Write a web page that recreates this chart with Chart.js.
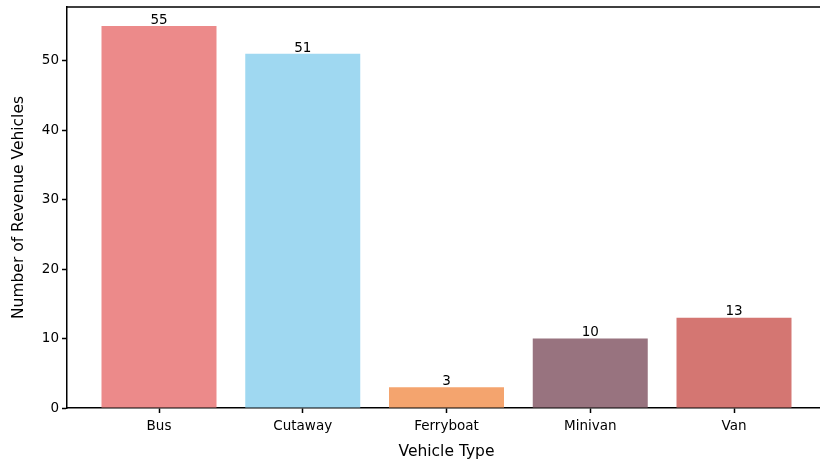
<!DOCTYPE html>
<html>
<head>
<meta charset="utf-8">
<script src="https://cdn.jsdelivr.net/npm/chart.js@4"></script>
<style>
  html, body { margin: 0; padding: 0; background: #fff; overflow: hidden; }
  #wrap { width: 830px; height: 464px; }
</style>
</head>
<body>
<div id="wrap"><canvas id="chart" width="830" height="464"></canvas></div>
<script>
// 데이터
const vehicleTypes = ["Bus", "Cutaway", "Ferryboat", "Minivan", "Van"];
const vehicleCounts = [55, 51, 3, 10, 13];
const barColors = ["#ec8a8a", "#9fd8f1", "#f4a46e", "#98737f", "#d47672"];
const yTicks = [0, 10, 20, 30, 40, 50];

const FONT = "'DejaVu Sans', sans-serif";

// 막대 위 숫자 + 위/오른쪽 테두리
const extras = {
    id: "extras",
    afterDatasetsDraw(chart) {
        const ctx = chart.ctx;
        const meta = chart.getDatasetMeta(0);
        ctx.save();
        ctx.fillStyle = "#000";
        ctx.font = "13.5px " + FONT;
        ctx.textAlign = "center";
        ctx.textBaseline = "bottom";
        meta.data.forEach((bar, i) => {
            ctx.fillText(String(vehicleCounts[i]), bar.x, bar.y + 1);
        });
        const a = chart.chartArea;
        ctx.strokeStyle = "#000";
        ctx.lineWidth = 1.5;
        ctx.beginPath();
        ctx.moveTo(a.left, a.top);
        ctx.lineTo(a.right, a.top);
        ctx.lineTo(a.right, a.bottom);
        ctx.stroke();
        ctx.restore();
    }
};

new Chart(document.getElementById("chart"), {
    type: "bar",
    data: {
        datasets: [{
            data: vehicleCounts.map((v, i) => ({ x: i, y: v })),
            backgroundColor: barColors,
            borderWidth: 0,
            categoryPercentage: 0.8,
            barPercentage: 1.0
        }]
    },
    options: {
        responsive: false,
        animation: false,
        layout: { padding: { left: 0, top: 7, right: 4, bottom: 0 } },
        plugins: { legend: { display: false }, tooltip: { enabled: false } },
        scales: {
            x: {
                type: "linear",
                offset: false,
                min: -0.64,
                max: 4.64,
                afterBuildTicks(scale) {
                    scale.ticks = vehicleTypes.map((_, i) => ({ value: i }));
                },
                afterFit(scale) {
                    scale.height = 56;
                    scale.paddingLeft = 0;
                    scale.paddingRight = 0;
                },
                ticks: {
                    callback: v => vehicleTypes[v],
                    color: "#000",
                    font: { family: FONT, size: 13.5 },
                    padding: 5,
                    maxRotation: 0
                },
                grid: { offset: false, drawOnChartArea: false, drawTicks: true, tickLength: 5, tickColor: "#000", tickWidth: 1.5 },
                border: { display: true, color: "#000", width: 1.5 },
                title: {
                    display: true,
                    text: "Vehicle Type",
                    color: "#000",
                    font: { family: FONT, size: 15.5 },
                    padding: { top: 0, bottom: 3 }
                }
            },
            y: {
                min: 0,
                max: 57.75,
                afterBuildTicks(scale) {
                    scale.ticks = yTicks.map(v => ({ value: v }));
                },
                afterFit(scale) {
                    scale.width = 67;
                    scale.paddingTop = 0;
                    scale.paddingBottom = 0;
                },
                ticks: {
                    color: "#000",
                    font: { family: FONT, size: 13.5 },
                    padding: 3
                },
                grid: { drawOnChartArea: false, drawTicks: true, tickLength: 5, tickColor: "#000", tickWidth: 1.5 },
                border: { display: true, color: "#000", width: 1.5 },
                title: {
                    display: true,
                    text: "Number of Revenue Vehicles",
                    color: "#000",
                    font: { family: FONT, size: 15.5 },
                    padding: { top: 10, bottom: 0 }
                }
            }
        }
    },
    plugins: [extras]
});
</script>
</body>
</html>
